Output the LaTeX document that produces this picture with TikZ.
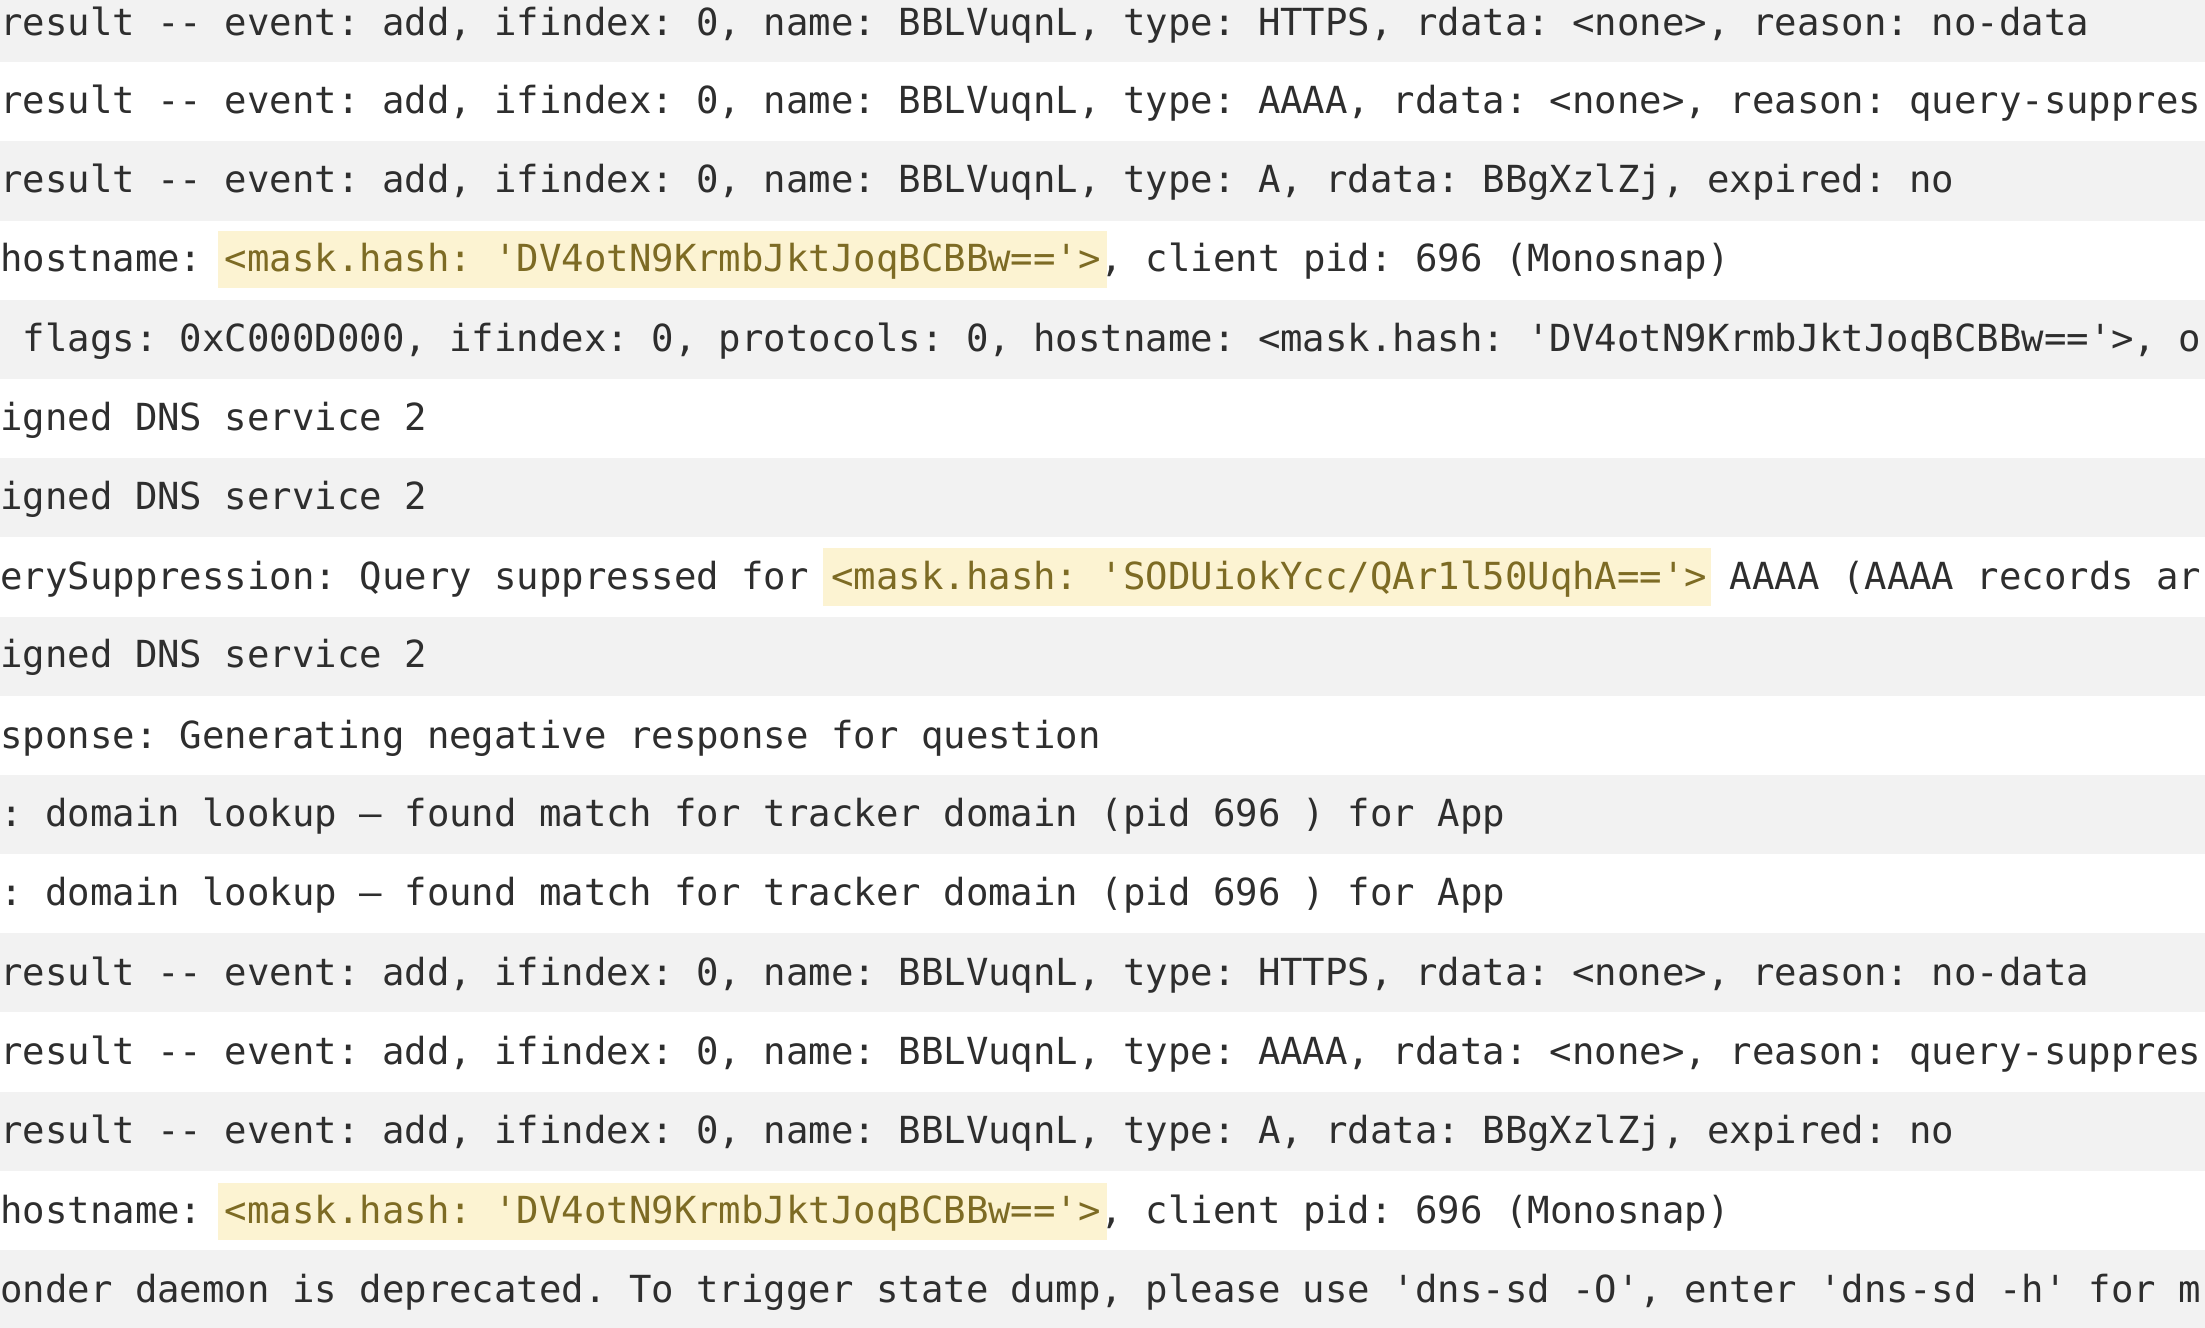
\documentclass[tikz,border=0pt]{standalone}
\usepackage{fontspec}
\setmonofont{DejaVu Sans Mono}
\definecolor{bandgray}{HTML}{F2F2F2}
\definecolor{hl}{HTML}{FCF3D2}
\definecolor{hltext}{HTML}{7D6B24}
\definecolor{txt}{HTML}{2E2E2E}
\tikzset{logline/.style={anchor=base west,inner sep=0pt,text=txt,font=\ttfamily\fontsize{26.53}{30}\selectfont}}
\newcommand{\hx}[1]{\textcolor{hltext}{#1}}
\begin{document}
\begin{tikzpicture}[x=1pt,y=-1pt]
\useasboundingbox (0,0) rectangle (1568,944);
\clip (0,0) rectangle (1568,944);
\foreach \i in {0,2,...,16}{
  \fill[bandgray] (0,{-12+56.3*\i}) rectangle (1568,{-12+56.3*(\i+1)});
}
\fill[hl] (155,{184-20}) rectangle (787,{184+21});
\fill[hl] (585,{410-20}) rectangle (1217,{410+21});
\fill[hl] (155,{861-20}) rectangle (787,{861+21});
\node[logline] (l1) at (0,25) {result -- event: add, ifindex: 0, name: BBLVuqnL, type: HTTPS, rdata: <none>, reason: no-data};
\node[logline] (l2) at (0,81) {result -- event: add, ifindex: 0, name: BBLVuqnL, type: AAAA, rdata: <none>, reason: query-suppres};
\node[logline] (l3) at (0,137) {result -- event: add, ifindex: 0, name: BBLVuqnL, type: A, rdata: BBgXzlZj, expired: no};
\node[logline] (l4) at (0,193) {hostname: \hx{<mask.hash: 'DV4otN9KrmbJktJoqBCBBw=='>}, client pid: 696 (Monosnap)};
\node[logline] (l5) at (0,250) {\ flags: 0xC000D000, ifindex: 0, protocols: 0, hostname: <mask.hash: 'DV4otN9KrmbJktJoqBCBBw=='>, o};
\node[logline] (l6) at (0,306) {igned DNS service 2};
\node[logline] (l7) at (0,362) {igned DNS service 2};
\node[logline] (l8) at (0,419) {erySuppression: Query suppressed for \hx{<mask.hash: 'SODUiokYcc/QAr1l50UqhA=='>} AAAA (AAAA records ar};
\node[logline] (l9) at (0,475) {igned DNS service 2};
\node[logline] (l10) at (0,532) {sponse: Generating negative response for question};
\node[logline] (l11) at (0,588) {: domain lookup – found match for tracker domain (pid 696 ) for App};
\node[logline] (l12) at (0,644) {: domain lookup – found match for tracker domain (pid 696 ) for App};
\node[logline] (l13) at (0,701) {result -- event: add, ifindex: 0, name: BBLVuqnL, type: HTTPS, rdata: <none>, reason: no-data};
\node[logline] (l14) at (0,757) {result -- event: add, ifindex: 0, name: BBLVuqnL, type: AAAA, rdata: <none>, reason: query-suppres};
\node[logline] (l15) at (0,813) {result -- event: add, ifindex: 0, name: BBLVuqnL, type: A, rdata: BBgXzlZj, expired: no};
\node[logline] (l16) at (0,870) {hostname: \hx{<mask.hash: 'DV4otN9KrmbJktJoqBCBBw=='>}, client pid: 696 (Monosnap)};
\node[logline] (l17) at (0,926) {onder daemon is deprecated. To trigger state dump, please use 'dns-sd -O', enter 'dns-sd -h' for m};
\end{tikzpicture}
\end{document}
